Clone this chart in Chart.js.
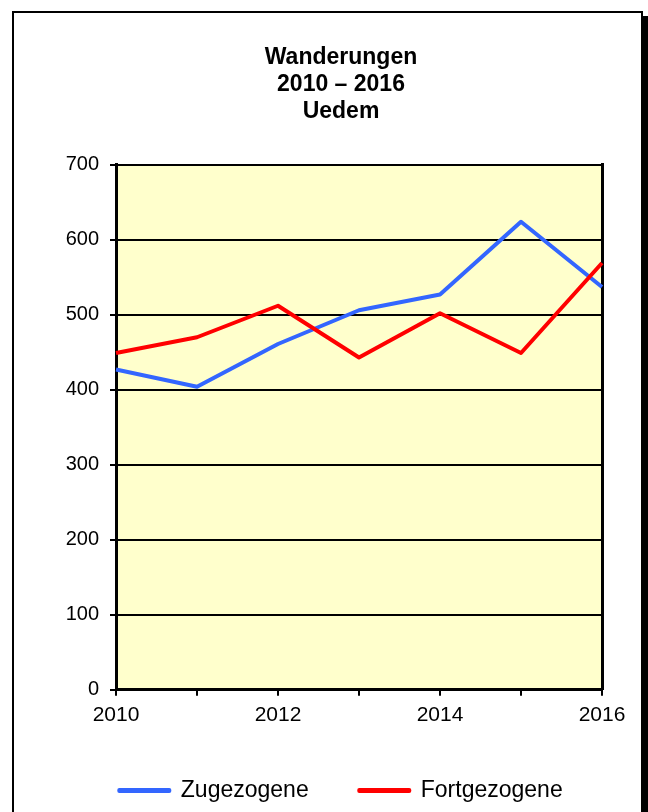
<!DOCTYPE html>
<html lang="de">
  <head>
    <meta charset="UTF-8" />
    <title>Wanderungen 2010 – 2016 Uedem</title>
    <style>
      html,
      body {
        margin: 0;
        padding: 0;
        background: #fff;
        overflow: hidden;
      }

      .frame {
        position: absolute;
        left: 12px;
        top: 11px;
        width: 627px;
        height: 900px;
        border: 2px solid #000;
        box-shadow: 5px 5px 0 #000;
        background: #fff;
      }

      #chart {
        position: absolute;
        left: 0;
        top: 0;
      }
    </style>
  </head>
  <body>
    <div class="frame"></div>
    <canvas id="chart" width="648" height="812"></canvas>
    <script src="https://cdn.jsdelivr.net/npm/chart.js"></script>
    <script>
      const years = ["2010", "2011", "2012", "2013", "2014", "2015", "2016"];
      const zugezogene = [427, 404, 461, 506, 527, 624, 537];
      const fortgezogene = [449, 470, 512, 443, 502, 449, 569];
      const titleLines = ["Wanderungen", "2010 – 2016", "Uedem"];

      const FONT = "'Liberation Sans', Arial, sans-serif";

      // pale yellow plot background
      const plotBackground = {
        id: "plotBackground",
        beforeDraw(chart) {
          const { ctx, chartArea } = chart;
          ctx.save();
          ctx.fillStyle = "#FFFFCC";
          ctx.fillRect(
            chartArea.left,
            chartArea.top,
            chartArea.right - chartArea.left,
            chartArea.bottom - chartArea.top
          );
          ctx.restore();
        },
      };

      const ctx = document.getElementById("chart").getContext("2d");
      new Chart(ctx, {
        type: "line",
        data: {
          labels: years,
          datasets: [
            {
              label: "Zugezogene",
              data: zugezogene,
              borderColor: "#3366FF",
              backgroundColor: "#3366FF",
              borderWidth: 4,
              borderJoinStyle: "round",
              pointRadius: 0,
              tension: 0,
              order: 2,
            },
            {
              label: "Fortgezogene",
              data: fortgezogene,
              borderColor: "#FF0000",
              backgroundColor: "#FF0000",
              borderWidth: 4,
              borderJoinStyle: "round",
              pointRadius: 0,
              tension: 0,
              order: 1,
            },
          ],
        },
        options: {
          responsive: false,
          animation: false,
          devicePixelRatio: 1,
          layout: {
            padding: { left: 46, right: 12, top: 0, bottom: 0 },
          },
          plugins: {
            title: {
              display: true,
              text: titleLines,
              color: "#000",
              font: { family: FONT, size: 23, weight: "bold", lineHeight: 1.17 },
              padding: { top: 44, bottom: 40 },
            },
            legend: {
              position: "bottom",
              labels: {
                color: "#000",
                font: { family: FONT, size: 23 },
                boxWidth: 50,
                boxHeight: 1,
                padding: 50.6,
                sort: (a, b) => a.datasetIndex - b.datasetIndex,
              },
            },
            tooltip: { enabled: false },
          },
          scales: {
            x: {
              type: "category",
              offset: false,
              afterFit(scale) {
                scale.height = 38.6;
              },
              grid: {
                drawOnChartArea: false,
                drawTicks: true,
                tickLength: 6,
                color: "#000",
                lineWidth: 2,
              },
              border: { color: "#000", width: 3 },
              ticks: {
                autoSkip: false,
                maxRotation: 0,
                color: "#000",
                padding: 7,
                font: { family: FONT, size: 21 },
                callback(value, index) {
                  return index % 2 === 0 ? this.getLabelForValue(value) : "";
                },
              },
            },
            y: {
              min: 0,
              max: 700,
              afterFit(scale) {
                scale.width = 70;
              },
              grid: {
                color: "#000",
                lineWidth: 2,
                drawTicks: true,
                tickLength: 6,
              },
              border: { color: "#000", width: 3 },
              ticks: {
                stepSize: 100,
                color: "#000",
                padding: 11,
                font: { family: FONT, size: 20 },
              },
            },
            y2: {
              position: "right",
              min: 0,
              max: 700,
              afterFit(scale) {
                scale.width = 34;
              },
              grid: { drawOnChartArea: false, drawTicks: false },
              border: { color: "#000", width: 3 },
              ticks: { display: false },
            },
          },
        },
        plugins: [plotBackground],
      });
    </script>
  </body>
</html>
